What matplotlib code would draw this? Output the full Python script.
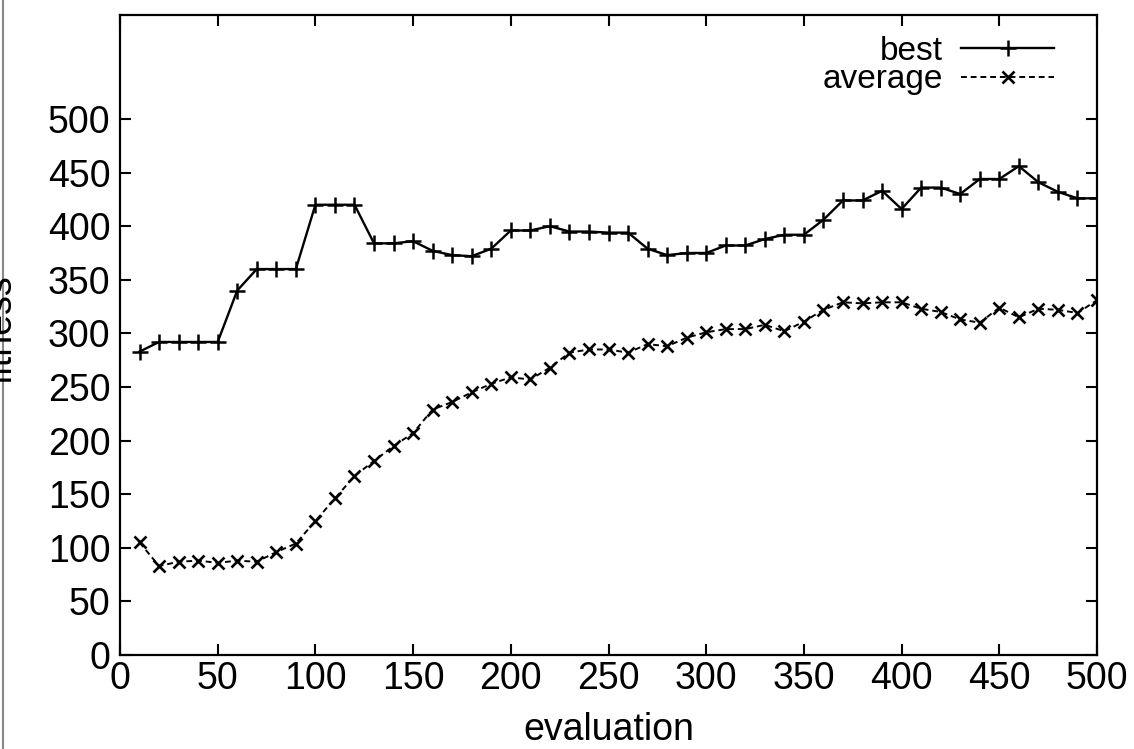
import matplotlib.pyplot as plt
from matplotlib.lines import Line2D

evaluation = [10, 20, 30, 40, 50, 60, 70, 80, 90, 100,
              110, 120, 130, 140, 150, 160, 170, 180, 190, 200,
              210, 220, 230, 240, 250, 260, 270, 280, 290, 300,
              310, 320, 330, 340, 350, 360, 370, 380, 390, 400,
              410, 420, 430, 440, 450, 460, 470, 480, 490, 500]

best = [283, 292, 292, 292, 292, 340, 360, 360, 360, 420,
        420, 420, 384, 384, 386, 377, 373, 372, 379, 396,
        396, 400, 395, 395, 394, 394, 379, 373, 375, 375,
        382, 382, 388, 392, 392, 406, 424, 424, 433, 416,
        436, 436, 430, 444, 444, 456, 441, 432, 426, 426]

average = [105, 83, 87, 88, 86, 88, 87, 96, 104, 125,
           146, 167, 181, 195, 207, 229, 236, 245, 253, 259,
           257, 268, 282, 285, 285, 282, 290, 288, 296, 301,
           304, 304, 308, 302, 311, 322, 329, 328, 329, 329,
           323, 320, 313, 310, 324, 315, 323, 322, 319, 331]

yticks = [0, 50, 100, 150, 200, 250, 300, 350, 400, 450, 500]
xticks = [0, 50, 100, 150, 200, 250, 300, 350, 400, 450, 500]

plt.rcParams["font.family"] = ["Liberation Sans", "DejaVu Sans"]
plt.rcParams["font.size"] = 27

fig = plt.figure(figsize=(11.34, 7.49), dpi=100)
ax = fig.add_axes([120 / 1134, 1 - 655 / 749, 977 / 1134, 640 / 749])

ax.plot(evaluation, best, color="black", lw=1.7, marker="+",
        markersize=11, markeredgewidth=1.8, label="best")
ax.plot(evaluation, average, color="black", lw=1.4, ls=(0, (3, 2)),
        marker="x", markersize=9, markeredgewidth=1.9, label="average")

ax.set_xlim(0, 500)
ax.set_ylim(0, 597)
ax.set_xticks(xticks)
ax.set_yticks(yticks)
ax.tick_params(axis="y", direction="in", length=8, width=1.5, right=True,
               pad=7)
ax.tick_params(axis="x", direction="in", length=8, width=1.5, top=True,
               pad=4)
for s in ax.spines.values():
    s.set_linewidth(1.6)

ax.set_xlabel("evaluation", labelpad=11)
fig.text(20 / 1134, 1 - 330 / 749, "fitness", rotation=90, ha="right",
         va="center", fontsize=27)

ax.legend(loc="upper right", frameon=False, markerfirst=False, fontsize=24,
          handlelength=2.8, handletextpad=0.55, labelspacing=-0.08,
          borderaxespad=0.0, bbox_to_anchor=(0.970, 0.988))

fig.add_artist(Line2D([3 / 1134, 3 / 1134], [0, 1], color="#888888", lw=1.5))

fig.savefig("out.png", dpi=100)
